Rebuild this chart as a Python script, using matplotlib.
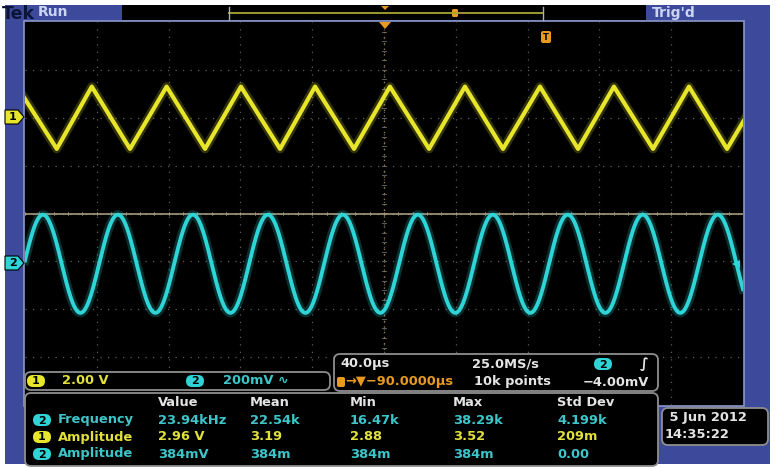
import matplotlib
matplotlib.use("Agg")
import matplotlib.pyplot as plt
import numpy as np
from matplotlib.patches import Rectangle, FancyBboxPatch, Polygon

W, H = 776, 468

TIME_PER_DIV_US = 40.0
CH1_VOLTS_PER_DIV = 2.0
CH2_VOLTS_PER_DIV = 0.2
CH1_OFFSET_DIV = 2.0
CH2_OFFSET_DIV = -1.05

# channel 1: triangle wave vertices (time in us, volts)
ch1_vertex_us = [-4.4, 17.7, 37.2, 58.5, 78.9, 100.3, 120.3, 142.1, 161.6, 183.3,
                 203.3, 225.1, 245.1, 266.3, 286.9, 308.1, 328.1, 349.9, 369.9,
                 391.1, 411.7]
ch1_vertex_v = [1.3, -1.3, 1.3, -1.3, 1.3, -1.3, 1.3, -1.3, 1.3, -1.3,
                1.3, -1.3, 1.3, -1.3, 1.3, -1.3, 1.3, -1.3, 1.3, -1.3, 1.3]

# channel 2: sine, measured parameters
CH2_FREQ_KHZ = 23.94
CH2_HALF_AMPL_V = 0.205
CH2_FIRST_PEAK_US = 10.0

meas_header = ["Value", "Mean", "Min", "Max", "Std Dev"]
meas_channels = ["2", "1", "2"]
meas_names = ["Frequency", "Amplitude", "Amplitude"]
meas_values = [["23.94kHz", "22.54k", "16.47k", "38.29k", "4.199k"],
               ["2.96 V", "3.19", "2.88", "3.52", "209m"],
               ["384mV", "384m", "384m", "384m", "0.00"]]

ch1_scale = "2.00 V"
ch2_scale = "200mV \u223f"
timebase = "40.0\u00b5s"
sample_rate = "25.0MS/s"
trig_pos = "\u2192\u25bc\u221290.0000\u00b5s"
rec_len = "10k points"
trig_level = "\u22124.00mV"
date_str = " 5 Jun 2012"
time_str = "14:35:22"

# ---------------- colours ----------------
BLUE = "#3d4a9c"
YEL = "#e8e62a"
YEL_T = "#e2e03c"
CYA = "#2ed4d6"
CYA_T = "#3cc6ca"
WHT = "#e4e4e4"
ORG = "#e89a20"
GRID = "#5c5c5c"
EDGE = "#8e8e8e"

fig = plt.figure(figsize=(W / 100, H / 100), dpi=100)
fig.patch.set_facecolor("white")

bg = fig.add_axes([0, 0, 1, 1], zorder=0)
bg.set_xlim(0, W); bg.set_ylim(H, 0); bg.axis("off")

# blue frame
bg.add_patch(Rectangle((5, 5), 765, 459, facecolor=BLUE, edgecolor="none"))
# top bar pieces
bg.add_patch(Rectangle((122, 5), 106, 15, facecolor="black", edgecolor="none"))
bg.add_patch(Rectangle((228, 5), 315, 15, facecolor="black", edgecolor="none"))
bg.add_patch(Rectangle((543, 5), 103, 15, facecolor="black", edgecolor="none"))
bg.text(2, 14, "Tek", color="#0c1438", fontsize=12.5, fontweight="bold", va="center", ha="left")
bg.text(38, 12.5, "Run", color="#ccd4f4", fontsize=10, fontweight="bold", va="center", ha="left")
bg.text(652, 12.5, "Trig'd", color="#ccd4f4", fontsize=10, fontweight="bold", va="center", ha="left")
# record view
bg.plot([229, 543], [13, 13], color="#a8a630", lw=1.3)
bg.plot([229, 229], [7, 20], color="#b0b0b0", lw=1)
bg.plot([543, 543], [7, 20], color="#b0b0b0", lw=1)
bg.add_patch(Polygon([[381, 6], [389, 6], [385, 10]], facecolor=ORG, edgecolor="none"))
bg.add_patch(FancyBboxPatch((452, 9), 6, 8, boxstyle="round,pad=0,rounding_size=1.5",
                            facecolor=ORG, edgecolor="none"))
# graticule border
bg.add_patch(Rectangle((24, 21), 720, 385, facecolor="black", edgecolor="#8a98c8", lw=1.2))

# ---------------- graticule with waveforms ----------------
ax = fig.add_axes([25 / W, 1 - 405 / H, 718 / W, 383 / H], zorder=1)
ax.set_facecolor("black")
ax.set_xlim(0, 10 * TIME_PER_DIV_US)
ax.set_ylim(-4, 4)
for s in ax.spines.values():
    s.set_visible(False)
ax.set_xticks([]); ax.set_yticks([])

for i in range(1, 10):
    ax.axvline(i * TIME_PER_DIV_US, color=GRID, lw=0.9, ls=(0, (1, 5)))
for j in range(-3, 4):
    ax.axhline(j, color=GRID, lw=0.9, ls=(0, (1, 5)))
# minor ticks along the centre lines
for k in np.arange(0, 10.01, 0.2):
    ax.plot([k * TIME_PER_DIV_US] * 2, [-0.04, 0.04], color="#6a6250", lw=0.7)
for k in np.arange(-4, 4.01, 0.2):
    ax.plot([5 * TIME_PER_DIV_US - 1.0, 5 * TIME_PER_DIV_US + 1.0], [k, k], color=GRID, lw=0.7)
# centre vertical (trigger position) line
ax.axvline(5 * TIME_PER_DIV_US, color="#8a7a50", lw=1.0, ls=(0, (1, 3)))
# trigger level line (tan)
ax.axhline(0.0, color="#b4a68a", lw=1.1)

# channel 1 triangle
t1 = np.array(ch1_vertex_us)
y1 = np.array(ch1_vertex_v) / CH1_VOLTS_PER_DIV + CH1_OFFSET_DIV
ax.plot(t1, y1, color=YEL, lw=6.5, alpha=0.22, solid_joinstyle="round")
ax.plot(t1, y1, color=YEL, lw=3.0, solid_joinstyle="round")

# channel 2 sine
t2 = np.linspace(0, 10 * TIME_PER_DIV_US, 3000)
f_per_us = CH2_FREQ_KHZ * 1e-3
y2 = CH2_HALF_AMPL_V * np.cos(2 * np.pi * f_per_us * (t2 - CH2_FIRST_PEAK_US))
y2 = y2 / CH2_VOLTS_PER_DIV + CH2_OFFSET_DIV
ax.plot(t2, y2, color=CYA, lw=6.5, alpha=0.22)
ax.plot(t2, y2, color=CYA, lw=2.8)

# ---------------- overlay: markers, readouts ----------------
ov = fig.add_axes([0, 0, 1, 1], zorder=3)
ov.set_xlim(0, W); ov.set_ylim(H, 0); ov.axis("off"); ov.patch.set_alpha(0)

def chmark(y, col, txt):
    ov.add_patch(Polygon([[5, y - 7], [18, y - 7], [24, y], [18, y + 7], [5, y + 7]],
                         facecolor=col, edgecolor="black", lw=0.8))
    ov.text(13, y + 0.5, txt, color="black", fontsize=8, fontweight="bold", ha="center", va="center")

chmark(117, YEL, "1")
chmark(263, CYA, "2")

# trigger markers in graticule
ov.add_patch(Polygon([[379, 22], [391, 22], [385, 29]], facecolor=ORG, edgecolor="none"))
ov.add_patch(FancyBboxPatch((541, 31), 10, 12, boxstyle="round,pad=0,rounding_size=2",
                            facecolor=ORG, edgecolor="none"))
ov.text(546, 37, "T", color="black", fontsize=6, fontweight="bold", ha="center", va="center")
ov.add_patch(Polygon([[732, 264], [740, 260], [740, 268]], facecolor=CYA, edgecolor="none"))

def rbox(x0, y0, x1, y1):
    ov.add_patch(FancyBboxPatch((x0, y0), x1 - x0, y1 - y0,
                                boxstyle="round,pad=0,rounding_size=6",
                                facecolor="black", edgecolor=EDGE, lw=1.3))

def badge(x, y, col, txt):
    ov.add_patch(FancyBboxPatch((x - 9, y - 6), 18, 12, boxstyle="round,pad=0,rounding_size=6",
                                facecolor=col, edgecolor="none"))
    ov.text(x, y + 0.5, txt, color="black", fontsize=8, fontweight="bold", ha="center", va="center")

FS = 9.4
# channel scale box
rbox(25, 372, 330, 390)
badge(36, 381, YEL, "1")
ov.text(62, 381, ch1_scale, color=YEL_T, fontsize=FS, fontweight="bold", va="center")
badge(195, 381, CYA, "2")
ov.text(223, 381, ch2_scale, color=CYA_T, fontsize=FS, fontweight="bold", va="center")

# timebase box
rbox(334, 354, 658, 391)
ov.text(340, 364, timebase, color=WHT, fontsize=FS, fontweight="bold", va="center")
ov.text(472, 364, sample_rate, color=WHT, fontsize=FS, fontweight="bold", va="center")
badge(603, 364, CYA, "2")
ov.text(640, 364, "\u222b", color=WHT, fontsize=FS + 1, fontweight="bold", va="center")
ov.add_patch(FancyBboxPatch((337, 377), 8, 10, boxstyle="round,pad=0,rounding_size=2",
                            facecolor=ORG, edgecolor="none"))
ov.text(345, 382, trig_pos, color=ORG, fontsize=FS, fontweight="bold", va="center")
ov.text(474, 382, rec_len, color=WHT, fontsize=FS, fontweight="bold", va="center")
ov.text(583, 382, trig_level, color=WHT, fontsize=FS, fontweight="bold", va="center")

# measurement box
rbox(25, 393, 658, 466)
col_x = [158, 250, 350, 453, 557]
for x, h in zip(col_x, meas_header):
    ov.text(x, 402, h, color=WHT, fontsize=FS, fontweight="bold", va="center")
row_y = [420, 437, 454]
for y, ch, name, vals in zip(row_y, meas_channels, meas_names, meas_values):
    c = CYA_T if ch == "2" else YEL_T
    bc = CYA if ch == "2" else YEL
    badge(42, y, bc, ch)
    ov.text(58, y, name, color=c, fontsize=FS, fontweight="bold", va="center")
    for x, v in zip(col_x, vals):
        ov.text(x, y, v, color=c, fontsize=FS, fontweight="bold", va="center")

# date box
rbox(662, 408, 768, 445)
ov.text(665, 417, date_str, color=WHT, fontsize=FS, fontweight="bold", va="center")
ov.text(665, 435, time_str, color=WHT, fontsize=FS, fontweight="bold", va="center")

fig.savefig("out.png", dpi=100, facecolor=fig.get_facecolor())
